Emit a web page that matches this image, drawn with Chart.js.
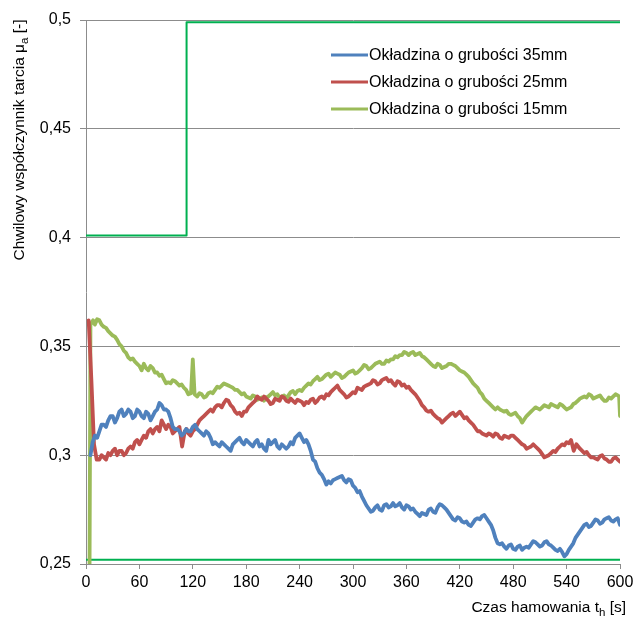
<!DOCTYPE html>
<html>
<head>
<meta charset="utf-8">
<script src="https://cdn.jsdelivr.net/npm/chart.js@4.4.1/dist/chart.umd.min.js"></script>
<style>
html,body{margin:0;padding:0;background:#fff;}
#c{display:block;}
</style>
</head>
<body>
<canvas id="c" width="633" height="619"></canvas>
<script>
const seriesLabels = ["Okładzina o grubości 35mm", "Okładzina o grubości 25mm", "Okładzina o grubości 15mm"];
const yTicks = [0.25, 0.3, 0.35, 0.4, 0.45, 0.5];
const xTicks = [0, 60, 120, 180, 240, 300, 360, 420, 480, 540, 600];

const tBlue = [5,7.5,10,12.5,15,17.5,20,22.5,25,27.5,30,32.5,35,37.5,40,42.5,45,47.5,50,52.5,55,57.5,60,62.5,65,67.5,70,72.5,75,77.5,80,82.5,85,87.5,90,92.5,95,97.5,100,102.5,105,107.5,110,112.5,115,117.5,120,122.5,125,127.5,130,132.5,135,137.5,140,142.5,145,147.5,150,152.5,155,157.5,160,162.5,165,167.5,170,172.5,175,177.5,180,182.5,185,187.5,190,192.5,195,197.5,200,202.5,205,207.5,210,212.5,215,217.5,220,222.5,225,227.5,230,232.5,235,237.5,240,242.5,245,247.5,250,252.5,255,257.5,260,262.5,265,267.5,270,272.5,275,277.5,280,282.5,285,287.5,290,292.5,295,297.5,300,302.5,305,307.5,310,312.5,315,317.5,320,322.5,325,327.5,330,332.5,335,337.5,340,342.5,345,347.5,350,352.5,355,357.5,360,362.5,365,367.5,370,372.5,375,377.5,380,382.5,385,387.5,390,392.5,395,397.5,400,402.5,405,407.5,410,412.5,415,417.5,420,422.5,425,427.5,430,432.5,435,437.5,440,442.5,445,447.5,450,452.5,455,457.5,460,462.5,465,467.5,470,472.5,475,477.5,480,482.5,485,487.5,490,492.5,495,497.5,500,502.5,505,507.5,510,512.5,515,517.5,520,522.5,525,527.5,530,532.5,535,537.5,540,542.5,545,547.5,550,552.5,555,557.5,560,562.5,565,567.5,570,572.5,575,577.5,580,582.5,585,587.5,590,592.5,595,597.5,600];
const vBlue = [0.300,0.306,0.309,0.308,0.311,0.314,0.314,0.313,0.316,0.318,0.318,0.315,0.317,0.320,0.321,0.318,0.319,0.321,0.320,0.317,0.318,0.321,0.320,0.318,0.317,0.320,0.319,0.316,0.318,0.320,0.321,0.324,0.323,0.321,0.321,0.320,0.317,0.313,0.312,0.312,0.311,0.309,0.310,0.312,0.311,0.311,0.313,0.314,0.312,0.311,0.310,0.309,0.311,0.310,0.308,0.305,0.306,0.305,0.304,0.306,0.305,0.304,0.303,0.302,0.305,0.306,0.307,0.308,0.306,0.305,0.307,0.306,0.305,0.304,0.306,0.307,0.304,0.305,0.303,0.302,0.307,0.305,0.306,0.307,0.304,0.303,0.305,0.304,0.303,0.304,0.306,0.305,0.308,0.309,0.310,0.308,0.306,0.307,0.305,0.302,0.298,0.297,0.294,0.292,0.291,0.289,0.2865,0.288,0.287,0.2885,0.289,0.2895,0.290,0.2905,0.2885,0.2875,0.289,0.2885,0.286,0.285,0.283,0.2835,0.281,0.279,0.277,0.2755,0.274,0.2745,0.276,0.277,0.275,0.2745,0.277,0.2775,0.276,0.2765,0.278,0.2765,0.277,0.278,0.276,0.275,0.277,0.2765,0.275,0.2755,0.274,0.273,0.272,0.2735,0.273,0.2725,0.275,0.2755,0.274,0.2735,0.276,0.2775,0.277,0.276,0.275,0.2735,0.272,0.2705,0.270,0.2715,0.271,0.2695,0.269,0.2695,0.268,0.2675,0.269,0.2705,0.271,0.2705,0.272,0.2725,0.271,0.2695,0.268,0.2655,0.262,0.2595,0.259,0.2595,0.258,0.257,0.2585,0.259,0.257,0.2565,0.258,0.2585,0.2565,0.2575,0.258,0.2575,0.259,0.2605,0.260,0.259,0.258,0.2585,0.260,0.2605,0.259,0.2585,0.2575,0.2565,0.256,0.257,0.2555,0.2535,0.2545,0.2565,0.258,0.2595,0.262,0.2635,0.265,0.2665,0.268,0.2685,0.267,0.2675,0.269,0.2705,0.270,0.2685,0.269,0.2705,0.271,0.2715,0.270,0.2695,0.2705,0.271,0.268];

const tRed = [3,6,9,12,15,17.5,20,22.5,25,27.5,30,32.5,35,37.5,40,42.5,45,47.5,50,52.5,55,57.5,60,62.5,65,67.5,70,72.5,75,77.5,80,82.5,85,87.5,90,92.5,95,97.5,100,102.5,105,108,111,113,115,117.5,120,122.5,125,127.5,130,132.5,135,137.5,140,142.5,145,147.5,150,152.5,155,157.5,160,162.5,165,167.5,170,172.5,175,177.5,180,182.5,185,187.5,190,192.5,195,197.5,200,202.5,205,207.5,210,212.5,215,217.5,220,222.5,225,227.5,230,232.5,235,237.5,240,242.5,245,247.5,250,252.5,255,257.5,260,262.5,265,267.5,270,272.5,275,277.5,280,282.5,285,287.5,290,292.5,295,297.5,300,302.5,305,307.5,310,312.5,315,317.5,320,322.5,325,327.5,330,332.5,335,337.5,340,342.5,345,347.5,350,352.5,355,357.5,360,362.5,365,367.5,370,372.5,375,377.5,380,382.5,385,387.5,390,392.5,395,397.5,400,402.5,405,407.5,410,412.5,415,417.5,420,422.5,425,427.5,430,432.5,435,437.5,440,442.5,445,447.5,450,452.5,455,457.5,460,462.5,465,467.5,470,472.5,475,477.5,480,482.5,485,487.5,490,492.5,495,497.5,500,502.5,505,507.5,510,512.5,515,517.5,520,522.5,525,527.5,530,532.5,535,537.5,540,542.5,545,548,551,553,555,557.5,560,562.5,565,567.5,570,572.5,575,577.5,580,582.5,585,587.5,590,592.5,595,597.5,600];
const vRed = [0.362,0.335,0.305,0.298,0.298,0.300,0.299,0.298,0.301,0.300,0.302,0.303,0.300,0.302,0.302,0.300,0.301,0.303,0.304,0.303,0.306,0.307,0.305,0.307,0.309,0.308,0.311,0.312,0.310,0.312,0.313,0.311,0.316,0.314,0.312,0.314,0.313,0.310,0.311,0.312,0.313,0.304,0.311,0.312,0.310,0.309,0.311,0.312,0.314,0.316,0.317,0.318,0.319,0.320,0.321,0.320,0.322,0.323,0.323,0.322,0.324,0.3255,0.325,0.323,0.322,0.320,0.319,0.3195,0.318,0.320,0.320,0.322,0.323,0.324,0.325,0.327,0.326,0.3255,0.327,0.326,0.325,0.3235,0.324,0.326,0.3255,0.325,0.327,0.3265,0.325,0.3245,0.326,0.325,0.324,0.3255,0.325,0.3245,0.323,0.3245,0.324,0.3255,0.326,0.324,0.325,0.3265,0.327,0.326,0.328,0.3275,0.329,0.330,0.331,0.332,0.330,0.329,0.328,0.3265,0.327,0.328,0.329,0.3285,0.331,0.3305,0.330,0.3315,0.332,0.3325,0.333,0.3345,0.334,0.3325,0.333,0.3345,0.335,0.3355,0.334,0.3345,0.333,0.332,0.334,0.3335,0.332,0.3325,0.331,0.3315,0.330,0.329,0.328,0.3265,0.325,0.323,0.322,0.3205,0.320,0.3205,0.319,0.318,0.317,0.3165,0.315,0.316,0.317,0.318,0.319,0.3195,0.318,0.319,0.320,0.3185,0.317,0.3175,0.316,0.315,0.314,0.3125,0.311,0.311,0.310,0.3095,0.309,0.310,0.3095,0.3085,0.310,0.3095,0.308,0.3075,0.309,0.3085,0.308,0.309,0.309,0.308,0.307,0.306,0.305,0.3045,0.303,0.3035,0.304,0.305,0.304,0.303,0.302,0.3005,0.299,0.2995,0.300,0.301,0.302,0.3015,0.303,0.304,0.305,0.3045,0.306,0.3055,0.307,0.302,0.305,0.304,0.303,0.302,0.301,0.3015,0.300,0.299,0.299,0.2985,0.298,0.2995,0.300,0.2985,0.298,0.297,0.297,0.2985,0.299,0.298,0.297];

const tGreen = [4,5,8,10,12.5,15,17.5,20,22.5,25,27.5,30,32.5,35,37.5,40,42.5,45,47.5,50,52.5,55,57.5,60,62.5,65,67.5,70,72.5,75,77.5,80,82.5,85,87.5,90,92.5,95,97.5,100,102.5,105,107.5,110,112.5,115,118,120,122,125,127.5,130,132.5,135,137.5,140,142.5,145,147.5,150,152.5,155,157.5,160,162.5,165,167.5,170,172.5,175,177.5,180,182.5,185,187.5,190,192.5,195,197.5,200,202.5,205,207.5,210,212.5,215,217.5,220,222.5,225,227.5,230,232.5,235,237.5,240,242.5,245,247.5,250,252.5,255,257.5,260,262.5,265,267.5,270,272.5,275,277.5,280,282.5,285,287.5,290,292.5,295,297.5,300,302.5,305,307.5,310,312.5,315,317.5,320,322.5,325,327.5,330,332.5,335,337.5,340,342.5,345,347.5,350,352.5,355,357.5,360,362.5,365,367.5,370,372.5,375,377.5,380,382.5,385,387.5,390,392.5,395,397.5,400,402.5,405,407.5,410,412.5,415,417.5,420,422.5,425,427.5,430,432.5,435,437.5,440,442.5,445,447.5,450,452.5,455,457.5,460,462.5,465,467.5,470,472.5,475,477.5,480,482.5,485,487.5,490,492.5,495,497.5,500,502.5,505,507.5,510,512.5,515,517.5,520,522.5,525,527.5,530,532.5,535,537.5,540,542.5,545,547.5,550,552.5,555,557.5,560,562.5,565,567.5,570,572.5,575,577.5,580,582.5,585,587.5,590,592.5,595,597.5,599,600];
const vGreen = [0.250,0.360,0.362,0.360,0.3625,0.362,0.360,0.359,0.3585,0.357,0.356,0.355,0.3545,0.353,0.351,0.350,0.348,0.347,0.345,0.344,0.3445,0.343,0.342,0.341,0.339,0.342,0.340,0.339,0.341,0.340,0.338,0.338,0.3365,0.337,0.335,0.333,0.3335,0.333,0.3345,0.334,0.333,0.332,0.3325,0.331,0.330,0.328,0.3285,0.344,0.328,0.327,0.3285,0.328,0.3265,0.327,0.3285,0.329,0.3285,0.330,0.3315,0.331,0.332,0.333,0.3325,0.332,0.3315,0.331,0.330,0.330,0.329,0.328,0.3285,0.327,0.3265,0.326,0.3275,0.327,0.3255,0.326,0.3265,0.325,0.3265,0.327,0.328,0.329,0.3275,0.328,0.3265,0.327,0.3275,0.326,0.3275,0.329,0.3295,0.328,0.3295,0.330,0.3295,0.331,0.332,0.333,0.3325,0.334,0.335,0.336,0.3345,0.335,0.336,0.337,0.3375,0.336,0.337,0.338,0.3375,0.337,0.3355,0.336,0.337,0.338,0.3385,0.339,0.3375,0.338,0.339,0.340,0.3415,0.341,0.3395,0.340,0.341,0.342,0.3425,0.343,0.342,0.342,0.3435,0.343,0.344,0.344,0.3455,0.345,0.346,0.346,0.3475,0.347,0.346,0.347,0.3475,0.346,0.3465,0.347,0.3455,0.345,0.344,0.343,0.342,0.341,0.3405,0.342,0.3415,0.340,0.3405,0.341,0.342,0.342,0.3415,0.341,0.340,0.339,0.3385,0.338,0.337,0.336,0.3345,0.333,0.332,0.331,0.329,0.328,0.326,0.325,0.324,0.323,0.322,0.321,0.322,0.321,0.3205,0.320,0.3205,0.319,0.3185,0.319,0.3195,0.318,0.317,0.315,0.3165,0.318,0.319,0.320,0.321,0.322,0.3215,0.321,0.322,0.323,0.3225,0.322,0.3235,0.323,0.3225,0.322,0.3235,0.323,0.322,0.321,0.3215,0.322,0.3235,0.324,0.325,0.326,0.3265,0.327,0.3265,0.328,0.3275,0.326,0.3265,0.327,0.3275,0.326,0.325,0.325,0.3265,0.326,0.327,0.328,0.3275,0.327,0.318];

const tStep = [0, 113, 113, 600];
const vStep = [0.401, 0.401, 0.499, 0.499];
const tBase = [0, 600];
const vBase = [0.252, 0.252];

[[tBlue, vBlue, 'blue'], [tRed, vRed, 'red'], [tGreen, vGreen, 'green']].forEach(([t, v, n]) => {
  if (t.length !== v.length) throw new Error('length mismatch ' + n + ': ' + t.length + ' vs ' + v.length);
});

function pts(t, v) { return t.map((x, i) => ({x: x, y: v[i]})); }

const FONT = "'Liberation Sans', Arial, sans-serif";

const titlesPlugin = {
  id: 'titles',
  afterDraw(chart) {
    const ctx = chart.ctx;
    ctx.save();
    ctx.fillStyle = '#000';
    const big = '15.5px ' + FONT, sub = '11.5px ' + FONT;
    const p1 = 'Czas hamowania t', p2 = 'h', p3 = ' [s]';
    ctx.font = big; const w1 = ctx.measureText(p1).width; const w3 = ctx.measureText(p3).width;
    ctx.font = sub; const w2 = ctx.measureText(p2).width;
    let x = 626 - (w1 + w2 + w3);
    const yb = 612;
    ctx.textBaseline = 'alphabetic'; ctx.textAlign = 'left';
    ctx.font = big; ctx.fillText(p1, x, yb); x += w1;
    ctx.font = sub; ctx.fillText(p2, x, yb + 4); x += w2;
    ctx.font = big; ctx.fillText(p3, x, yb);
    const q1 = 'Chwilowy współczynnik tarcia μ', q2 = 'a', q3 = ' [-]';
    ctx.font = big; const u1 = ctx.measureText(q1).width; const u3 = ctx.measureText(q3).width;
    ctx.font = sub; const u2 = ctx.measureText(q2).width;
    const total = u1 + u2 + u3;
    ctx.translate(24, 140 + total / 2);
    ctx.rotate(-Math.PI / 2);
    let xx = 0;
    ctx.font = big; ctx.fillText(q1, xx, 0); xx += u1;
    ctx.font = sub; ctx.fillText(q2, xx, 4); xx += u2;
    ctx.font = big; ctx.fillText(q3, xx, 0);
    ctx.restore();
  }
};

const legendPlugin = {
  id: 'customLegend',
  afterDraw(chart) {
    const ctx = chart.ctx;
    ctx.save();
    ctx.font = '16px ' + FONT;
    ctx.textBaseline = 'middle';
    ctx.textAlign = 'left';
    seriesLabels.forEach((lab, i) => {
      const d = chart.data.datasets.find(ds => ds.label === lab);
      const y = 55 + i * 27;
      ctx.strokeStyle = d.borderColor;
      ctx.lineWidth = 3;
      ctx.beginPath(); ctx.moveTo(331, y); ctx.lineTo(368, y); ctx.stroke();
      ctx.fillStyle = '#000';
      ctx.fillText(lab, 369, y + 1);
    });
    ctx.restore();
  }
};

new Chart(document.getElementById('c'), {
  type: 'line',
  data: {
    datasets: [
      {label: 'base', data: pts(tBase, vBase), borderColor: '#00b050', borderWidth: 2, pointRadius: 0, order: 5},
      {label: 'step', data: pts(tStep, vStep), borderColor: '#00b050', borderWidth: 2, pointRadius: 0, order: 4},
      {label: seriesLabels[2], data: pts(tGreen, vGreen), borderColor: '#9bbb59', borderWidth: 3.8, pointRadius: 0, order: 3},
      {label: seriesLabels[1], data: pts(tRed, vRed), borderColor: '#c0504d', borderWidth: 3.8, pointRadius: 0, order: 2},
      {label: seriesLabels[0], data: pts(tBlue, vBlue), borderColor: '#4f81bd', borderWidth: 3.8, pointRadius: 0, order: 1}
    ]
  },
  options: {
    responsive: false,
    animation: false,
    layout: {padding: {left: 0, right: 13, top: 20, bottom: 0}},
    plugins: {legend: {display: false}, tooltip: {enabled: false}},
    elements: {line: {tension: 0, borderJoinStyle: 'round', borderCapStyle: 'round'}},
    scales: {
      x: {
        type: 'linear', min: 0, max: 600,
        afterBuildTicks(s) { s.ticks = xTicks.map(v => ({value: v})); },
        afterFit(s) { s.height = 55; s.paddingRight = 0; s.paddingLeft = 0; },
        grid: {drawOnChartArea: false, drawTicks: true, tickLength: 5, color: '#8c8c8c'},
        border: {display: true, color: '#8c8c8c', width: 1},
        ticks: {font: {family: FONT, size: 16}, color: '#000', padding: 4, maxRotation: 0}
      },
      y: {
        type: 'linear', min: 0.25, max: 0.5,
        afterBuildTicks(s) { s.ticks = yTicks.map(v => ({value: v})); },
        afterFit(s) { s.width = 86; },
        grid: {color: '#8c8c8c', drawTicks: true, tickLength: 6},
        border: {display: true, color: '#8c8c8c', width: 1},
        ticks: {font: {family: FONT, size: 16}, color: '#000', padding: 9,
          callback: v => String(Math.round(v * 100) / 100).replace('.', ',')}
      }
    }
  },
  plugins: [titlesPlugin, legendPlugin]
});
</script>
</body>
</html>
